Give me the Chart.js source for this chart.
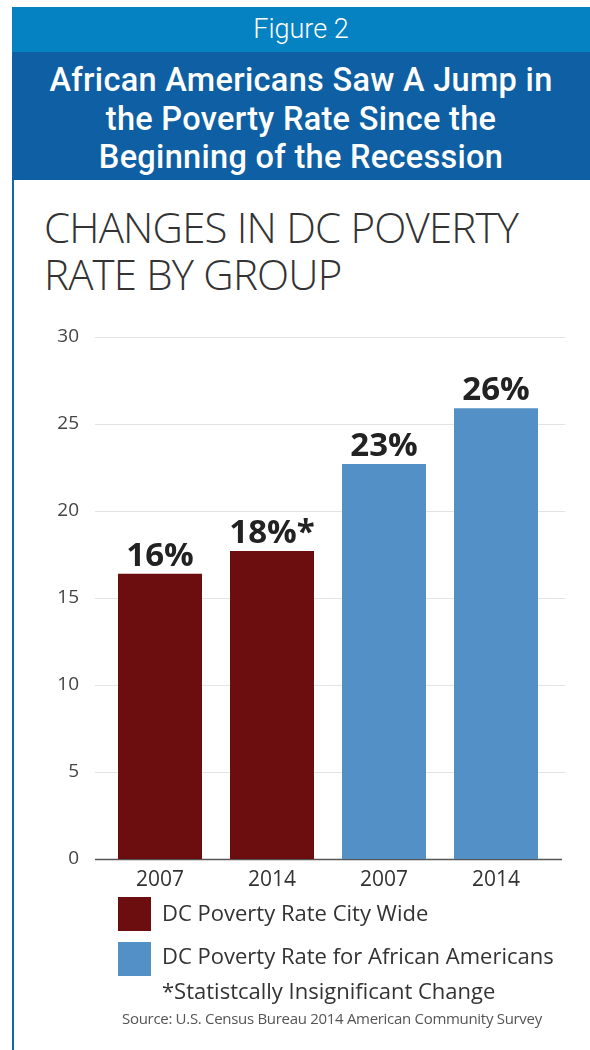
<!DOCTYPE html>
<html>
<head>
<meta charset="utf-8">
<script src="https://cdn.jsdelivr.net/npm/chart.js@4"></script>
<style>
  body { margin: 0; background: #fff; }
  #page { position: relative; width: 590px; height: 1050px; overflow: hidden; font-family: "Open Sans", sans-serif; }
  .band1 { position: absolute; left: 12px; top: 7px; right: 0; height: 45px; background: #0582c2; color: #fff;
           font-family: Roboto, sans-serif; font-weight: 300; font-size: 27px; line-height: 45px; text-align: center; }
  .band2 { position: absolute; left: 12px; top: 52px; right: 0; height: 128px; background: #0e5fa3; color: #fff;
           font-family: Roboto, sans-serif; font-weight: 500; font-size: 32.5px; line-height: 38.5px; text-align: center;
           padding-top: 9px; box-sizing: border-box; letter-spacing: 0.3px; }
  .rule { position: absolute; left: 12px; top: 180px; width: 2px; height: 870px; background: #1767b0; }
  .heading { position: absolute; left: 44px; top: 203px; color: #333; font-family: "Open Sans", sans-serif; font-weight: 300;
             font-size: 42px; line-height: 47px; letter-spacing: -0.8px; }
  #chartBox { position: absolute; left: 0; top: 300px; width: 590px; height: 600px; }
  .legend { position: absolute; left: 118px; font-size: 22px; color: #333; }
  .legend .sw { position: absolute; left: 0; width: 33px; height: 34px; }
  .legend .tx { position: absolute; left: 44px; white-space: nowrap; line-height: 30px; }
  .note { position: absolute; left: 162px; top: 975px; font-size: 22px; color: #333; white-space: nowrap; line-height: 30px; }
  .source { position: absolute; left: 122px; top: 1008px; font-size: 15px; color: #555; white-space: nowrap; line-height: 20px; letter-spacing: -0.3px; }
</style>
</head>
<body>
<div id="page">
  <div class="band1">Figure 2</div>
  <div class="band2">African Americans Saw A Jump in<br>the Poverty Rate Since the<br>Beginning of the Recession</div>
  <div class="rule"></div>
  <div class="heading">CHANGES IN DC POVERTY<br>RATE BY GROUP</div>
  <div id="chartBox"><canvas id="povertyChart" width="590" height="600"></canvas></div>
  <div class="legend" style="top:897px">
    <div class="sw" id="sw0"></div><div class="tx" style="top:0px">DC Poverty Rate City Wide</div>
  </div>
  <div class="legend" style="top:942px">
    <div class="sw" id="sw1"></div><div class="tx" style="top:-2px">DC Poverty Rate for African Americans</div>
  </div>
  <div class="note">*Statistcally Insignificant Change</div>
  <div class="source">Source: U.S. Census Bureau 2014 American Community Survey</div>
</div>
<script>
// chart data
var years = ['2007', '2014', '2007', '2014'];
var rates = [16.4, 17.7, 22.7, 25.9];
var rateLabels = ['16%', '18%*', '23%', '26%'];
var groups = ['DC Poverty Rate City Wide', 'DC Poverty Rate for African Americans'];
var groupOfBar = [0, 0, 1, 1];
var yTicks = [0, 5, 10, 15, 20, 25, 30];

var groupColors = ['#6c0e10', '#5290c6'];
document.getElementById('sw0').style.background = groupColors[0];
document.getElementById('sw1').style.background = groupColors[1];

// grid lines run a little wider than the bars
var gridPlugin = {
    id: 'wideGrid',
    beforeDatasetsDraw: function (chart) {
        var ctx = chart.ctx;
        var y = chart.scales.y;
        ctx.save();
        yTicks.forEach(function (t) {
            var py = Math.round(y.getPixelForValue(t)) + 0.5;
            ctx.beginPath();
            if (t === 0) {
                ctx.strokeStyle = '#555';
                ctx.lineWidth = 1.5;
                ctx.moveTo(95, py);
                ctx.lineTo(562, py);
            } else {
                ctx.strokeStyle = '#e3e3e3';
                ctx.lineWidth = 1;
                ctx.moveTo(95, py);
                ctx.lineTo(565, py);
            }
            ctx.stroke();
        });
        ctx.restore();
    }
};

// value labels above each bar
var valuePlugin = {
    id: 'valueLabels',
    afterDatasetsDraw: function (chart) {
        var ctx = chart.ctx;
        var meta = chart.getDatasetMeta(0);
        ctx.save();
        ctx.fillStyle = '#222';
        ctx.font = 'bold 33px "Open Sans"';
        ctx.textAlign = 'center';
        ctx.textBaseline = 'alphabetic';
        meta.data.forEach(function (bar, i) {
            ctx.fillText(rateLabels[i], bar.x, bar.y - 8);
        });
        ctx.restore();
    }
};

var ctx = document.getElementById('povertyChart').getContext('2d');
var chart = new Chart(ctx, {
    type: 'bar',
    data: {
        labels: years,
        datasets: [{
            label: groups[0],
            data: rates,
            backgroundColor: groupOfBar.map(function (g) { return groupColors[g]; }),
            borderWidth: 0,
            categoryPercentage: 1,
            barPercentage: 0.75
        }]
    },
    options: {
        responsive: false,
        animation: false,
        layout: { padding: { top: 37, right: 38, bottom: 0, left: 0 } },
        plugins: { legend: { display: false }, tooltip: { enabled: false } },
        scales: {
            y: {
                min: 0,
                max: 30,
                afterFit: function (s) { s.width = 104; },
                afterBuildTicks: function (s) { s.ticks = yTicks.map(function (v) { return { value: v }; }); },
                grid: { display: false },
                border: { display: false },
                ticks: { color: '#444', font: { family: 'Open Sans', size: 19 }, padding: 17 }
            },
            x: {
                afterFit: function (s) { s.height = 41; },
                grid: { display: false },
                border: { display: false },
                ticks: { color: '#333', font: { family: 'Open Sans', size: 21 }, padding: 0 }
            }
        }
    },
    plugins: [gridPlugin, valuePlugin]
});
</script>
</body>
</html>
